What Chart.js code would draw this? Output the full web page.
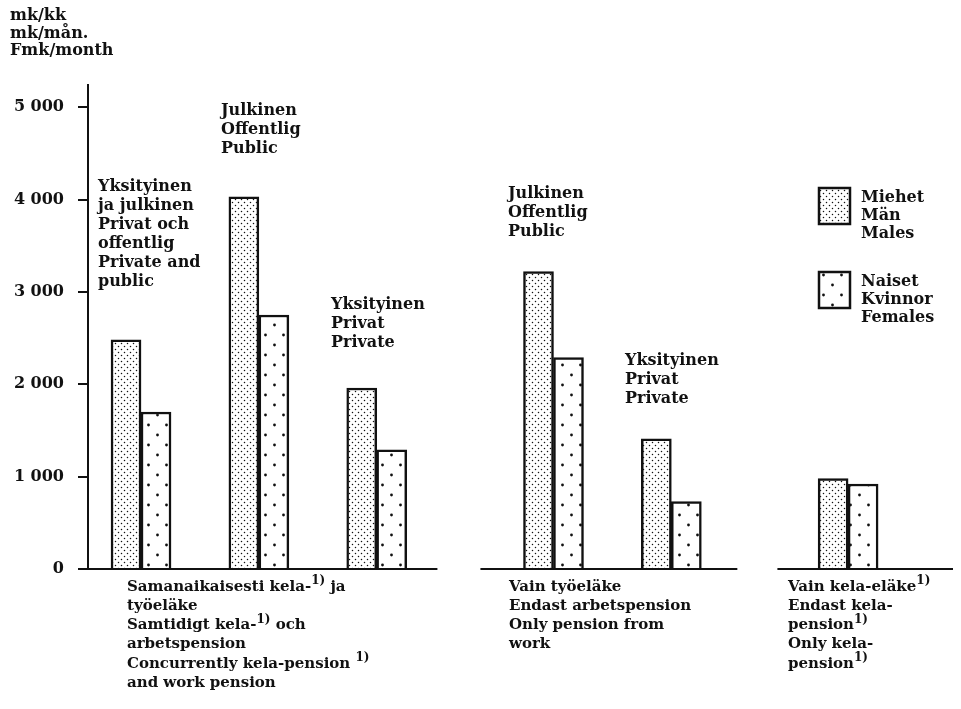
<!DOCTYPE html>
<html>
<head>
<meta charset="utf-8">
<script src="https://cdn.jsdelivr.net/npm/chart.js@4.4.0/dist/chart.umd.min.js"></script>
<style>
  body { margin: 0; background: #fff; }
</style>
</head>
<body>
<canvas id="myChart" width="961" height="709"></canvas>
<script>
const groups = ["Yksityinen ja julkinen", "Julkinen", "Yksityinen", "Julkinen", "Yksityinen", "Vain kela-eläke"];
const malesValues = [2480, 4030, 1960, 3220, 1410, 980];
const femalesValues = [1700, 2750, 1290, 2290, 730, 920];
const yTicks = [0, 1000, 2000, 3000, 4000, 5000];
const seriesNames = [["Miehet", "Män", "Males"], ["Naiset", "Kvinnor", "Females"]];
const unitLines = ["mk/kk", "mk/mån.", "Fmk/month"];
const groupLabels = [
  ["Yksityinen", "ja julkinen", "Privat och", "offentlig", "Private and", "public"],
  ["Julkinen", "Offentlig", "Public"],
  ["Yksityinen", "Privat", "Private"],
  ["Julkinen", "Offentlig", "Public"],
  ["Yksityinen", "Privat", "Private"],
  [],
];
const sectionLabels = [
  ["Samanaikaisesti kela-^1)^ ja", "työeläke", "Samtidigt kela-^1)^ och", "arbetspension", "Concurrently kela-pension ^1)", "and work pension"],
  ["Vain työeläke", "Endast arbetspension", "Only pension from", "work"],
  ["Vain kela-eläke^1)", "Endast kela-", "pension^1)", "Only kela-", "pension^1)"],
];

// layout (slot index of each group on the x axis, section baselines, text spots)
const groupSlots = [0, 2, 4, 7, 9, 12];
const xMin = -0.9;
const xMax = 13.78;
const sections = [[xMin, 5.03], [5.76, 10.12], [10.8, 13.78]];
const groupLabelPos = [[98, 187], [221, 111], [331, 305], [508, 194], [625, 361], null];
const sectionLabelPos = [[127, 587], [509, 587], [788, 587]];
const ink = "#111";
const serif = "DejaVu Serif";

const ctx = document.getElementById("myChart");

const makePattern = (w, h, dots, r) => {
  const c = document.createElement("canvas");
  c.width = w;
  c.height = h;
  const g = c.getContext("2d");
  g.fillStyle = "#fff";
  g.fillRect(0, 0, w, h);
  g.fillStyle = ink;
  dots.forEach(([x, y]) => {
    g.beginPath();
    g.arc(x, y, r, 0, Math.PI * 2);
    g.fill();
  });
  return g.createPattern(c, "repeat");
};

const malePattern = makePattern(6, 6, [[1.5, 1.5], [4.5, 4.5]], 0.75);
const femalePattern = makePattern(18, 20, [[4.5, 5], [13.5, 15]], 1.4);

// text with ^superscript^ parts
const drawRich = (g, line, x, y, size) => {
  const parts = line.split("^");
  let cx = x;
  parts.forEach((part, i) => {
    if (!part) return;
    const sup = i % 2 === 1;
    g.font = `bold ${sup ? size - 3 : size}px "${serif}"`;
    g.fillText(part, cx, sup ? y - 6 : y);
    cx += g.measureText(part).width;
  });
};

const drawLines = (g, lines, x, y, size, step) => {
  lines.forEach((line, i) => drawRich(g, line, x, y + i * step, size));
};

const annotations = {
  id: "annotations",
  afterDraw(chart) {
    const g = chart.ctx;
    const xs = chart.scales.x;
    const ys = chart.scales.y;
    const y0 = ys.getPixelForValue(0);
    g.save();
    g.strokeStyle = ink;
    g.lineWidth = 2;
    sections.forEach(([a, b]) => {
      g.beginPath();
      g.moveTo(xs.getPixelForValue(a), y0);
      g.lineTo(xs.getPixelForValue(b), y0);
      g.stroke();
    });
    g.fillStyle = ink;
    g.textBaseline = "middle";
    g.textAlign = "left";
    groupLabels.forEach((lines, i) => {
      const p = groupLabelPos[i];
      if (p) drawLines(g, lines, p[0], p[1], 16, 19);
    });
    sectionLabels.forEach((lines, i) => {
      const p = sectionLabelPos[i];
      drawLines(g, lines, p[0], p[1], 15, 19.2);
    });
    drawLines(g, unitLines, 10, 16, 16, 17.5);

    // legend
    const boxes = [[819, 188, malePattern], [819, 272, femalePattern]];
    boxes.forEach(([bx, by, pat], i) => {
      g.fillStyle = pat;
      g.fillRect(bx, by, 31, 36);
      g.lineWidth = 2.5;
      g.strokeRect(bx, by, 31, 36);
      g.fillStyle = ink;
      drawLines(g, seriesNames[i], 861, by + 10, 16, 18);
    });
    g.restore();
  },
};

const chart = new Chart(ctx, {
  type: "bar",
  data: {
    datasets: [
      {
        label: "Miehet",
        data: malesValues.map((v, i) => ({ x: groupSlots[i], y: v })),
        backgroundColor: malePattern,
        borderColor: ink,
        borderWidth: 2.5,
        borderSkipped: "bottom",
        barThickness: 30,
      },
      {
        label: "Naiset",
        data: femalesValues.map((v, i) => ({ x: groupSlots[i], y: v })),
        backgroundColor: femalePattern,
        borderColor: ink,
        borderWidth: 2.5,
        borderSkipped: "bottom",
        barThickness: 30,
      },
    ],
  },
  options: {
    responsive: false,
    animation: false,
    layout: { padding: { top: 85, bottom: 140, left: 0, right: 8 } },
    plugins: {
      legend: { display: false },
      tooltip: { enabled: false },
    },
    scales: {
      x: { type: "linear", min: xMin, max: xMax, offset: false, display: false },
      y: {
        min: 0,
        max: 5240,
        afterBuildTicks: (scale) => {
          scale.ticks = yTicks.map((v) => ({ value: v }));
        },
        afterFit: (scale) => {
          scale.width = 88;
        },
        grid: { drawOnChartArea: false, drawTicks: true, tickLength: 10, color: ink, lineWidth: 2 },
        border: { display: true, color: ink, width: 2 },
        ticks: {
          padding: 14,
          color: ink,
          font: { family: serif, weight: "bold", size: 16 },
          callback: (v) => String(v).replace(/\B(?=(\d{3})+$)/, " "),
        },
      },
    },
  },
  plugins: [annotations],
});
</script>
</body>
</html>
